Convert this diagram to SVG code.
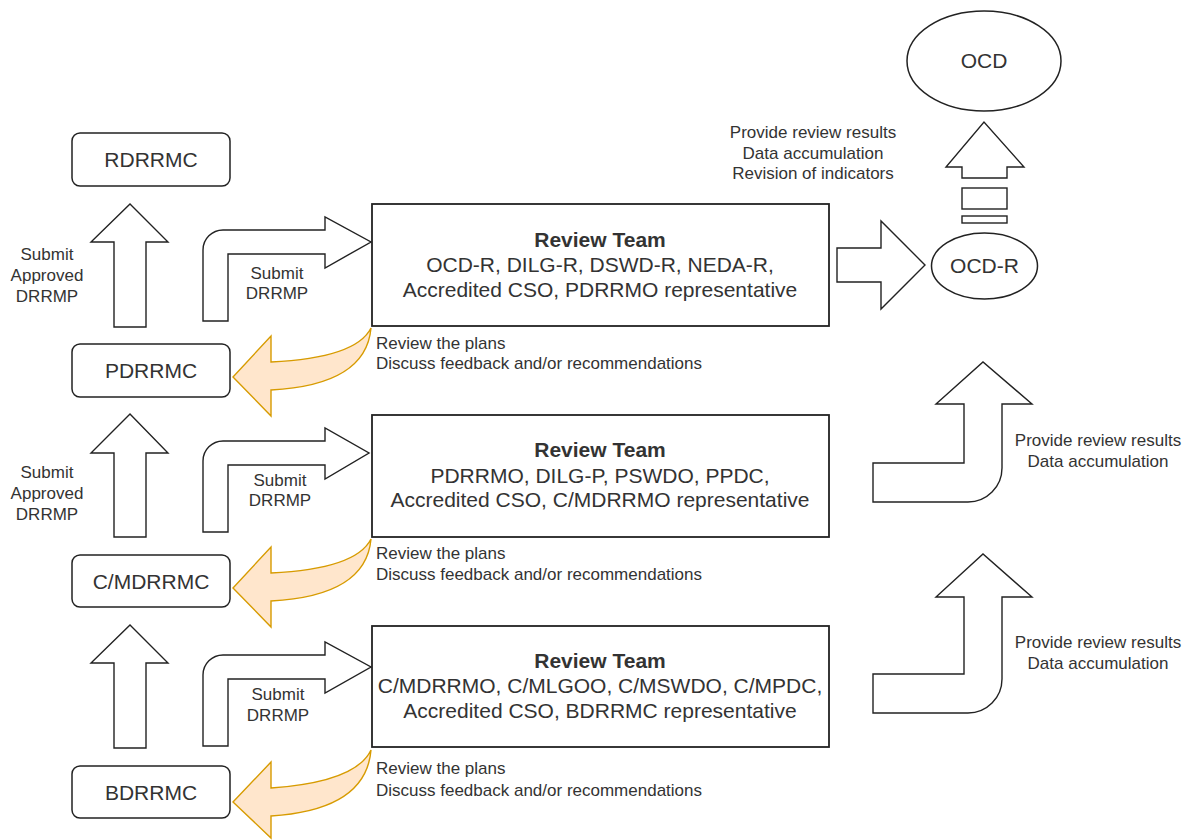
<svg xmlns="http://www.w3.org/2000/svg" width="1193" height="840" viewBox="0 0 1193 840">
<style>
.bg{fill:#ffffff}
.box{fill:#ffffff;stroke:#222;stroke-width:1.5}
.rbox{fill:#ffffff;stroke:#222;stroke-width:1.8}
.arr{fill:#ffffff;stroke:#222;stroke-width:1.4;stroke-linejoin:miter}
.org{fill:#FFE6CC;stroke:#D79B00;stroke-width:1.4;stroke-linejoin:miter}
.t{font-family:"Liberation Sans",Arial,sans-serif;fill:#333}
.big{font-size:21px;text-anchor:middle}
.bold{font-weight:bold}
.sm{font-size:17px}
.mid{text-anchor:middle}
</style>
<rect class="bg" x="0" y="0" width="1193" height="840"/>

<g id="connectors">
  <!-- left up arrows -->
  <path class="arr" d="M114,327 L114,242 L91,242 L130,204 L168,242 L146,242 L146,327 Z"/>
  <path class="arr" d="M114,537 L114,453 L91,453 L130,414 L168,453 L146,453 L146,537 Z"/>
  <path class="arr" d="M114,748 L114,663 L91,663 L130,625 L168,663 L146,663 L146,748 Z"/>
  <!-- left bend arrows -->
  <path class="arr" d="M203,321 L203,250 A20,20 0 0 1 223,230 L325,230 L325,217 L371,242 L325,268 L325,254 L228,254 L228,321 Z"/>
  <path class="arr" d="M203,532 L203,461 A20,20 0 0 1 223,441 L325,441 L325,428 L369,453 L325,479 L325,465 L228,465 L228,532 Z"/>
  <path class="arr" d="M203,746 L203,675 A20,20 0 0 1 223,655 L325,655 L325,642 L371,667 L325,693 L325,679 L228,679 L228,746 Z"/>
  <!-- orange feedback arrows -->
  <path class="org" d="M371,328 Q356,358 271,362 L271,336 L233,377 L271,416 L271,390 Q366,385 371,328 Z"/>
  <path class="org" d="M371,539 Q356,569 271,573 L271,547 L233,588 L271,627 L271,601 Q366,596 371,539 Z"/>
  <path class="org" d="M371,750 Q356,782 271,788 L271,762 L233,802 L271,838 L271,816 Q366,810 371,750 Z"/>
  <!-- box1 to OCD-R -->
  <path class="arr" d="M837,248 L881,248 L881,221 L925,265 L881,309 L881,282 L837,282 Z"/>
  <!-- right bend arrows -->
  <path class="arr" d="M873,463 L964,463 L964,404 L936,404 L983,362 L1032,404 L1002,404 L1002,468 A34,34 0 0 1 968,502 L873,502 Z"/>
  <path class="arr" d="M873,674 L964,674 L964,597 L936,597 L983,554 L1032,597 L1002,597 L1002,679 A34,34 0 0 1 968,713 L873,713 Z"/>
  <!-- striped arrow OCD-R to OCD -->
  <path class="arr" d="M962,178 L962,167 L946,167 L984,122 L1024,167 L1007,167 L1007,178 Z"/>
  <rect class="arr" x="962" y="188" width="45" height="21"/>
  <rect class="arr" x="962" y="216" width="45" height="7"/>

  <!-- connector labels -->
  <text class="t sm mid" x="47" y="260">Submit</text>
  <text class="t sm mid" x="47" y="281">Approved</text>
  <text class="t sm mid" x="47" y="302">DRRMP</text>
  <text class="t sm mid" x="47" y="478">Submit</text>
  <text class="t sm mid" x="47" y="499">Approved</text>
  <text class="t sm mid" x="47" y="520">DRRMP</text>

  <text class="t sm mid" x="277" y="279">Submit</text>
  <text class="t sm mid" x="277" y="299">DRRMP</text>
  <text class="t sm mid" x="280" y="486">Submit</text>
  <text class="t sm mid" x="280" y="506">DRRMP</text>
  <text class="t sm mid" x="278" y="700">Submit</text>
  <text class="t sm mid" x="278" y="721">DRRMP</text>

  <text class="t sm" x="376" y="349">Review the plans</text>
  <text class="t sm" x="376" y="369">Discuss feedback and/or recommendations</text>
  <text class="t sm" x="376" y="559">Review the plans</text>
  <text class="t sm" x="376" y="580">Discuss feedback and/or recommendations</text>
  <text class="t sm" x="376" y="774">Review the plans</text>
  <text class="t sm" x="376" y="796">Discuss feedback and/or recommendations</text>

  <text class="t sm mid" x="813" y="138">Provide review results</text>
  <text class="t sm mid" x="813" y="159">Data accumulation</text>
  <text class="t sm mid" x="813" y="179">Revision of indicators</text>

  <text class="t sm mid" x="1098" y="446">Provide review results</text>
  <text class="t sm mid" x="1098" y="467">Data accumulation</text>
  <text class="t sm mid" x="1098" y="648">Provide review results</text>
  <text class="t sm mid" x="1098" y="669">Data accumulation</text>
</g>

<g id="rdrrmc">
  <rect class="box" x="72" y="133" width="158" height="53" rx="8"/>
  <text class="t big" x="151" y="167">RDRRMC</text>
</g>
<g id="pdrrmc">
  <rect class="box" x="72" y="344" width="158" height="53" rx="8"/>
  <text class="t big" x="151" y="378">PDRRMC</text>
</g>
<g id="cmdrrmc">
  <rect class="box" x="72" y="555" width="158" height="52" rx="8"/>
  <text class="t big" x="151" y="589">C/MDRRMC</text>
</g>
<g id="bdrrmc">
  <rect class="box" x="72" y="766" width="158" height="52" rx="8"/>
  <text class="t big" x="151" y="800">BDRRMC</text>
</g>

<g id="review-regional">
  <rect class="rbox" x="372" y="204" width="457" height="122"/>
  <text class="t big bold" x="600" y="247">Review Team</text>
  <text class="t big" x="600" y="272">OCD-R, DILG-R, DSWD-R, NEDA-R,</text>
  <text class="t big" x="600" y="297">Accredited CSO, PDRRMO representative</text>
</g>
<g id="review-provincial">
  <rect class="rbox" x="372" y="415" width="457" height="122"/>
  <text class="t big bold" x="600" y="457">Review Team</text>
  <text class="t big" x="600" y="483">PDRRMO, DILG-P, PSWDO, PPDC,</text>
  <text class="t big" x="600" y="507">Accredited CSO, C/MDRRMO representative</text>
</g>
<g id="review-municipal">
  <rect class="rbox" x="372" y="626" width="457" height="121"/>
  <text class="t big bold" x="600" y="668">Review Team</text>
  <text class="t big" x="600" y="693">C/MDRRMO, C/MLGOO, C/MSWDO, C/MPDC,</text>
  <text class="t big" x="600" y="718">Accredited CSO, BDRRMC representative</text>
</g>

<g id="ocd">
  <ellipse class="box" cx="984" cy="61" rx="77" ry="50"/>
  <text class="t big" x="984" y="68">OCD</text>
</g>
<g id="ocd-r">
  <ellipse class="box" cx="984.5" cy="266" rx="53" ry="33"/>
  <text class="t big" x="984.5" y="273">OCD-R</text>
</g>
</svg>
